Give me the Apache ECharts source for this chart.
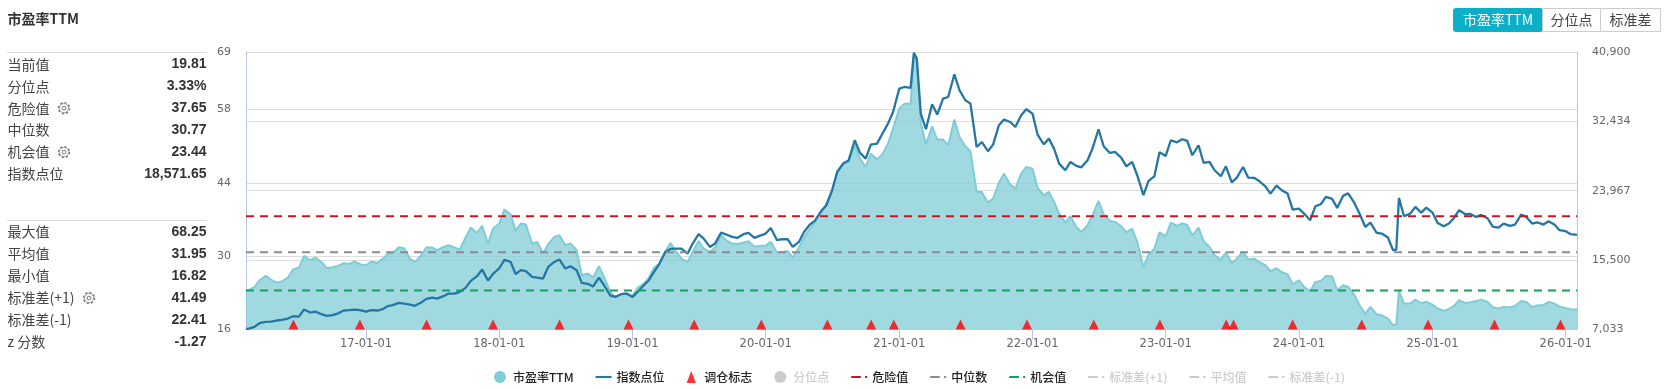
<!DOCTYPE html>
<html><head><meta charset="utf-8">
<style>html,body{margin:0;padding:0;background:#fff}#c{width:1667px;height:389px}</style>
<script src="https://cdn.jsdelivr.net/npm/echarts@6/dist/echarts.min.js"></script>
</head><body><div id="c"></div>
<script>
const dates = [
'2016-02-07','2016-02-15','2016-03-01','2016-03-15','2016-04-01','2016-04-15','2016-05-01','2016-05-15','2016-06-01','2016-06-15','2016-07-01','2016-07-15','2016-08-01','2016-08-15','2016-09-01','2016-09-15','2016-10-01','2016-10-15','2016-11-01','2016-11-15','2016-12-01','2016-12-15',
'2017-01-01','2017-01-15','2017-02-01','2017-02-15','2017-03-01','2017-03-15','2017-04-01','2017-04-15','2017-05-01','2017-05-15','2017-06-01','2017-06-15','2017-07-01','2017-07-15','2017-08-01','2017-08-15','2017-09-01','2017-09-15','2017-10-01','2017-10-15','2017-11-01','2017-11-15','2017-12-01','2017-12-15',
'2018-01-01','2018-01-15','2018-02-01','2018-02-15','2018-03-01','2018-03-15','2018-04-01','2018-04-15','2018-05-01','2018-05-15','2018-06-01','2018-06-15','2018-07-01','2018-07-15','2018-08-01','2018-08-15','2018-09-01','2018-09-15','2018-10-01','2018-10-15','2018-11-01','2018-11-15','2018-12-01','2018-12-15',
'2019-01-01','2019-01-15','2019-02-01','2019-02-15','2019-03-01','2019-03-15','2019-04-01','2019-04-15','2019-05-01','2019-05-15','2019-06-01','2019-06-15','2019-07-01','2019-07-15','2019-08-01','2019-08-15','2019-09-01','2019-09-15','2019-10-01','2019-10-15','2019-11-01','2019-11-15','2019-12-01','2019-12-15',
'2020-01-01','2020-01-15','2020-02-01','2020-02-15','2020-03-01','2020-03-15','2020-04-01','2020-04-15','2020-05-01','2020-05-15','2020-06-01','2020-06-15','2020-07-01','2020-07-15','2020-08-01','2020-08-15','2020-09-01','2020-09-15','2020-10-01','2020-10-15','2020-11-01','2020-11-15','2020-12-01','2020-12-15',
'2021-01-01','2021-01-15','2021-02-01','2021-02-10','2021-02-18','2021-03-01','2021-03-15','2021-04-01','2021-04-15','2021-05-01','2021-05-15','2021-06-01','2021-06-15','2021-07-01','2021-07-15','2021-08-01','2021-08-15','2021-09-01','2021-09-15','2021-10-01','2021-10-15','2021-11-01','2021-11-15','2021-12-01','2021-12-15',
'2022-01-01','2022-01-15','2022-02-01','2022-02-15','2022-03-01','2022-03-15','2022-04-01','2022-04-15','2022-05-01','2022-05-15','2022-06-01','2022-06-15','2022-07-01','2022-07-15','2022-08-01','2022-08-15','2022-09-01','2022-09-15','2022-10-01','2022-10-15','2022-11-01','2022-11-15','2022-12-01','2022-12-15',
'2023-01-01','2023-01-15','2023-02-01','2023-02-15','2023-03-01','2023-03-15','2023-04-01','2023-04-15','2023-05-01','2023-05-15','2023-06-01','2023-06-15','2023-07-01','2023-07-15','2023-08-01','2023-08-15','2023-09-01','2023-09-15','2023-10-01','2023-10-15','2023-11-01','2023-11-15','2023-12-01','2023-12-15',
'2024-01-01','2024-01-15','2024-02-01','2024-02-15','2024-03-01','2024-03-15','2024-04-01','2024-04-15','2024-05-01','2024-05-15','2024-06-01','2024-06-15','2024-07-01','2024-07-15','2024-08-01','2024-08-15','2024-09-01','2024-09-15','2024-09-24','2024-10-01','2024-10-15','2024-11-01','2024-11-15','2024-12-01','2024-12-15',
'2025-01-01','2025-01-15','2025-02-01','2025-02-15','2025-03-01','2025-03-15','2025-04-01','2025-04-15','2025-05-01','2025-05-15','2025-06-01','2025-06-15','2025-07-01','2025-07-15','2025-08-01','2025-08-15','2025-09-01','2025-09-15','2025-10-01','2025-10-15','2025-11-01','2025-11-15','2025-12-01','2025-12-15',
'2026-01-01','2026-01-15','2026-02-01'];
const peValues = [
23.5,23.57,24.08,25.41,26.24,25.54,24.97,25.16,25.92,27.45,27.83,30.06,29.23,29.74,28.85,27.71,27.9,28.15,28.66,28.53,28.98,28.47,
28.21,28.98,28.72,29.49,30.38,30.63,31.72,31.52,29.55,28.92,30.19,31.65,31.65,31.14,31.78,32.1,31.65,31.27,33.62,35.47,34.45,35.79,32.42,35.28,
36.24,38.91,38.02,34.83,36.24,36.04,32.42,32.73,30.51,32.29,33.69,34.01,32.1,32.42,31.14,26.37,26.69,25.92,28.09,26.05,23.19,22.23,22.74,22.93,
22.42,23.95,24.78,25.92,27.83,28.47,30.95,32.54,30.82,29.55,28.92,30.82,32.93,31.46,30.82,31.65,33.94,33.04,32.41,32.34,32.6,32.85,31.84,31.96,
32.03,32.73,30.69,30.82,31.01,29.73,31.64,33.55,35.27,36.55,38.58,39.73,42.59,46.22,47.75,48,51.19,48.64,47.05,49.59,48.51,49.4,51.5,54.37,
58.19,59.14,59.14,68.25,67.1,55.51,51.38,54.81,52.27,52.27,51.18,56.09,52.78,50.99,50.04,42.27,42.27,40.24,41,44.06,45.77,43.67,42.91,45.77,47.05,
46.73,43.04,41.64,42.27,40.36,38.14,36.42,37.63,35.59,34.64,35.91,37.95,40.56,38.01,36.74,36.55,35.72,34.57,35.27,32.73,27.95,30.25,31.46,34.57,
33.81,36.42,35.78,36.29,35.97,34,35.47,32.86,31.77,30.18,29.36,30.69,28.72,29.55,30.82,29.36,29.55,28.85,28.27,27.13,27.7,26.94,26.55,24.64,
25.41,24.14,23.31,25.09,25.28,26.24,26.17,23.5,24.45,24.13,22.6,20.63,19.04,20.31,18.91,18.72,18.09,16.82,16.94,23.37,20.95,20.95,21.71,21.01,21.33,
20.76,20,19.55,19.93,20.5,21.59,21.08,21.2,21.46,21.71,21.27,20.25,20,20.31,20.25,20.5,21.46,21.27,20.31,20.57,20.69,21.27,20.95,20.38,
20.06,19.87,19.81];
const indexValues = [
7110,7150,7350,7800,7960,8000,8130,8210,8370,8650,8610,9470,9100,9220,8900,8700,8780,8980,9350,9390,9470,9390,
9220,9390,9350,9510,9880,10000,10280,10200,10080,9920,10320,10770,10930,10810,11100,11420,11420,11620,12150,12970,13540,14350,13010,13820,
14510,15530,15280,13780,14270,14150,13450,13370,13250,14670,15280,15570,14470,14760,14270,12720,12600,12280,13370,12440,11180,11010,11340,11420,
11010,11620,12440,13050,14060,15000,16500,16870,16910,16910,16300,17520,18660,18130,17110,17520,18860,18620,18330,18210,18660,18820,18210,18460,
18740,19430,17930,18050,18050,17110,17720,18940,19840,20330,21470,22200,24030,26260,27320,27650,30130,28620,27890,29600,29720,30860,32160,33580,
36430,36630,36510,40800,40090,33380,31470,34520,33260,35210,35410,38180,36230,35010,34600,29310,29920,28790,29600,31960,32650,32360,31750,33180,33910,
33380,30820,29640,30330,29110,27280,26470,27480,27000,26830,27690,29190,31470,29400,28580,28700,28010,26950,27480,25860,23420,25170,25730,28660,
28220,30130,29880,30250,30050,28300,29520,27360,27480,26470,25730,26950,25000,25570,26870,25570,25530,25120,24510,23620,24600,24030,23620,21670,
21790,21180,20370,22070,22320,23210,22970,21870,23340,23660,22480,21180,19550,20080,18820,18740,18250,16710,16790,23090,20860,21180,21990,21300,21910,
21300,20040,19630,19960,20650,21590,21100,21140,20770,21020,20610,19590,19470,19960,19680,19840,21060,20770,19960,20120,19840,20250,19840,19150,
19030,18660,18571.65];
const rebalanceDates = ['2016-06-16','2016-12-15','2017-06-16','2017-12-15','2018-06-15','2018-12-21','2019-06-19','2019-12-20','2020-06-18','2020-10-16','2020-12-17','2021-06-18','2021-12-17','2022-06-18','2022-12-16','2023-06-16','2023-07-06','2023-12-15','2024-06-21','2024-12-20','2025-06-20','2025-12-18'];
const peAxisMin = 16, peAxisMax = 69, peInterval = 14;
const indexAxisMin = 7033, indexAxisMax = 40900, indexInterval = 8467;
const dangerValue = 37.65, medianValue = 30.77, chanceValue = 23.44;
const stdUpper = 41.49, meanValue = 31.95, stdLower = 22.41;
const statsTop = [['当前值','19.81',0],['分位点','3.33%',0],['危险值','37.65',1],['中位数','30.77',0],['机会值','23.44',1],['指数点位','18,571.65',0]];
const statsBottom = [['最大值','68.25',0],['平均值','31.95',0],['最小值','16.82',0],['标准差(+1)','41.49',1],['标准差(-1)','22.41',0],['z 分数','-1.27',0]];
const tabs = ['市盈率TTM','分位点','标准差'];

const cjk = '"Noto Sans CJK SC","Liberation Sans",sans-serif';
const arial = '"Liberation Sans",Arial,sans-serif';
const dashIcon = 'path://M0,0H9V2H0ZM13,0H15V2H13Z';
const solidIcon = 'path://M0,0H15V2H0Z';
const triIcon = 'path://M5,0L10,13L0,13Z';
const zip = (a,b)=>a.map((d,i)=>[d,b[i]]);
const flat = v=>[[dates[0],v],[dates[dates.length-1],v]];
function dashed(name,color,v){return {name,type:'line',yAxisIndex:0,symbol:'none',silent:true,z:5,data:flat(v),lineStyle:{color,width:2,type:[8,6]},itemStyle:{color}};}

const graphic = [];
function txt(x,y,text,o){graphic.push({type:'text',x,y,silent:true,style:Object.assign({text,font:'14px '+cjk,fill:'#444',textVerticalAlign:'middle'},o||{})});}
function gear(cx,cy){
  graphic.push({type:'circle',silent:true,shape:{cx,cy,r:5.4},style:{fill:'none',stroke:'#777',lineWidth:1.6,lineDash:[2.1,2.1]}});
  graphic.push({type:'circle',silent:true,shape:{cx,cy,r:4.6},style:{fill:'#fff',stroke:'#888',lineWidth:.8}});
  graphic.push({type:'circle',silent:true,shape:{cx,cy,r:1.9},style:{fill:'none',stroke:'#777',lineWidth:1}});
}
txt(7.5,19,'市盈率TTM',{font:'bold 14px '+cjk,fill:'#333'});
function panel(rows,lineY,firstY,step){
  graphic.push({type:'line',silent:true,shape:{x1:7,y1:lineY,x2:207,y2:lineY},style:{stroke:'#ddd',lineWidth:1}});
  rows.forEach((r,i)=>{
    const y=firstY+i*step;
    txt(7.5,y,r[0]);
    txt(206.5,y,r[1],{font:'bold 14px '+arial,fill:'#333',textAlign:'right'});
    if(r[2]) gear(r[0].length>3?89:64,y);
  });
}
panel(statsTop,52.5,64.3,21.95);
panel(statsBottom,220.5,232,22);
const tabX=[1453,1542,1600,1660];
tabs.forEach((t,i)=>{
  graphic.push({type:'rect',silent:true,shape:{x:tabX[i]+.5,y:8.5,width:tabX[i+1]-tabX[i],height:23,r:i==0?2:0},style:{fill:i==0?'#0bafc7':'#fff',stroke:i==0?'#0bafc7':'#ccc',lineWidth:1}});
  txt((tabX[i]+tabX[i+1])/2+.5,20,t,{textAlign:'center',fill:i==0?'#fff':'#444'});
});

const chart = echarts.init(document.getElementById('c'),null,{renderer:'canvas'});
chart.setOption({
  animation:false,
  backgroundColor:'#fff',
  graphic,
  grid:{left:246,right:90,top:52,bottom:59.5,containLabel:false},
  legend:{
    left:489,top:366,itemWidth:16,itemHeight:12,itemGap:22,
    textStyle:{fontSize:12,fontFamily:cjk,color:'#222',fontWeight:500},
    inactiveColor:'#ccc',
    selected:{'分位点':false,'标准差(+1)':false,'平均值':false,'标准差(-1)':false},
    data:[
      {name:'市盈率TTM',icon:'circle'},{name:'指数点位',icon:solidIcon},{name:'调仓标志',icon:triIcon},{name:'分位点',icon:'circle'},
      {name:'危险值',icon:dashIcon},{name:'中位数',icon:dashIcon},{name:'机会值',icon:dashIcon},{name:'标准差(+1)',icon:dashIcon},{name:'平均值',icon:dashIcon},{name:'标准差(-1)',icon:dashIcon}]
  },
  xAxis:{type:'time',min:'2016-02-07',max:'2026-02-01',splitNumber:10,
    axisLine:{lineStyle:{color:'#ccd6eb',width:1}},
    axisTick:{show:true,length:10,lineStyle:{color:'#b9c6e0'}},
    minorTick:{show:false},splitLine:{show:false},
    axisLabel:{color:'#666',fontSize:11.5,fontFamily:'"DejaVu Sans",sans-serif',margin:9,hideOverlap:false,showMinLabel:false,showMaxLabel:false,
      formatter:v=>{const d=new Date(v);if(d.getMonth()!==0||d.getDate()!==1)return '';return String(d.getFullYear()).slice(2)+'-01-01';}}},
  yAxis:[
    {type:'value',min:peAxisMin,max:peAxisMax,interval:peInterval,position:'left',
      axisLine:{show:true,lineStyle:{color:'#b9c6e0'}},axisTick:{show:false},
      splitLine:{show:true,lineStyle:{color:'#ddd',width:1}},
      axisLabel:{color:'#666',fontSize:11,fontFamily:'"DejaVu Sans",sans-serif',margin:15}},
    {type:'value',min:indexAxisMin,max:indexAxisMax,interval:indexInterval,position:'right',
      axisLine:{show:true,lineStyle:{color:'#b9c6e0'}},axisTick:{show:false},
      splitLine:{show:true,lineStyle:{color:'#ddd',width:1}},
      axisLabel:{color:'#666',fontSize:11,fontFamily:'"DejaVu Sans",sans-serif',margin:15,
        formatter:v=>Math.round(v).toLocaleString('en-US')}}
  ],
  series:[
    {name:'市盈率TTM',type:'line',yAxisIndex:0,symbol:'none',z:2,data:zip(dates,peValues),
      lineStyle:{color:'#80ccd6',width:2},itemStyle:{color:'#80ccd6'},areaStyle:{color:'#80ccd6',opacity:.75}},
    {name:'指数点位',type:'line',yAxisIndex:1,symbol:'none',z:4,data:zip(dates,indexValues),
      lineStyle:{color:'#2476a3',width:2.3},itemStyle:{color:'#2476a3'}},
    {name:'调仓标志',type:'scatter',yAxisIndex:0,symbol:'triangle',symbolSize:[10,10],symbolOffset:[0,-5],z:6,silent:true,
      itemStyle:{color:'#f00'},data:rebalanceDates.map(d=>[d,peAxisMin])},
    {name:'分位点',type:'line',yAxisIndex:0,symbol:'none',data:[],itemStyle:{color:'#ccc'}},
    dashed('危险值','#c1191f',dangerValue),
    dashed('中位数','#888c96',medianValue),
    dashed('机会值','#16a05c',chanceValue),
    dashed('标准差(+1)','#999',stdUpper),
    dashed('平均值','#999',meanValue),
    dashed('标准差(-1)','#999',stdLower)
  ]
});
</script></body></html>
